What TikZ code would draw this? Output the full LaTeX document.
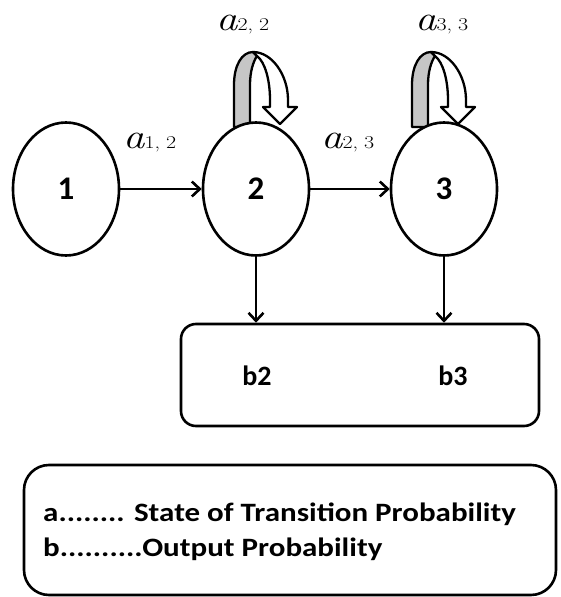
\documentclass[tikz,border=0pt]{standalone}
\usepackage{graphicx}
\usepackage{fontspec}
\setmainfont{Carlito}
\newfontfamily\serifa{Latin Modern Roman}
\newfontfamily\legfont[FakeStretch=1.17]{Carlito}
\usetikzlibrary{arrows.meta,shapes.geometric}
\tikzset{
  state/.style={ellipse,draw,line width=2.6pt,fill=white,minimum width=106pt,minimum height=133pt,inner sep=0pt,font=\fontsize{33}{33}\selectfont\bfseries},
  arr/.style={line width=2.6pt,-{Straight Barb[length=8pt,width=15pt,line width=2.6pt]}},
  rbox/.style={draw,line width=2.6pt,rounded corners=#1,inner sep=0pt},
  blabel/.style={font=\fontsize{28}{28}\selectfont\bfseries},
  alabel/.style={inner sep=0pt,anchor=base west,text=black},
  legline/.style={inner sep=0pt,anchor=base west,font=\legfont\fontsize{26.5}{26.5}\selectfont\bfseries},
  selfloop/.pic={
    \draw[line width=2.3pt,fill=gray!45,line join=round] (0,4) -- (0,-38) .. controls (0,-58) and (8,-71) .. (19,-71) -- (23,-67) .. controls (19,-61) and (16,-51) .. (16,-38) -- (16,4) -- cycle;
    \draw[line width=2.3pt,fill=white,line join=round] (19,-71) .. controls (38,-71) and (54,-48) .. (54,-23) -- (54,-16) -- (63,-16) -- (46,1) -- (29,-16) -- (36,-16) -- (36,-23) .. controls (36,-43) and (31,-61) .. (23,-67) -- cycle;
  }
}
\newcommand{\alab}[2]{\scalebox{1.22}[1]{\serifa\mdseries{\fontsize{35}{35}\selectfont\itshape a}{\fontsize{18}{18}\selectfont\upshape #1,\hspace{5pt}#2}}}
\begin{document}
\begin{tikzpicture}[x=1pt,y=-1pt]
\useasboundingbox (0,0) rectangle (561,597);
\pic at (234,123) {selfloop};
\pic at (412,123) {selfloop};
\node[state] (s1) at (66,189) {1};
\node[state] (s2) at (256,189) {2};
\node[state] (s3) at (444,189) {3};
\node[alabel] (l12) at (123,148) {\alab{1}{2}};
\node[alabel] (l23) at (321,148) {\alab{2}{3}};
\node[alabel] (l22) at (216,30) {\alab{2}{2}};
\node[alabel] (l33) at (415,30) {\alab{3}{3}};
\node[rbox=15pt,minimum width=358pt,minimum height=102pt] (out) at (360,375) {};
\node[blabel] (b2) at (257,376) {b2};
\node[blabel] (b3) at (453,376) {b3};
\draw[arr] (s1) -- (s2);
\draw[arr] (s2) -- (s3);
\draw[arr] (s2.south) -- (s2.south |- out.north);
\draw[arr] (s3.south) -- (s3.south |- out.north);
\node[rbox=25pt,minimum width=532pt,minimum height=130pt] (leg) at (290,530) {};
\node[legline] (leg1) at (43,521) {a........ State of Transition Probability};
\node[legline] (leg2) at (43,556) {b..........Output Probability};
\end{tikzpicture}
\end{document}
